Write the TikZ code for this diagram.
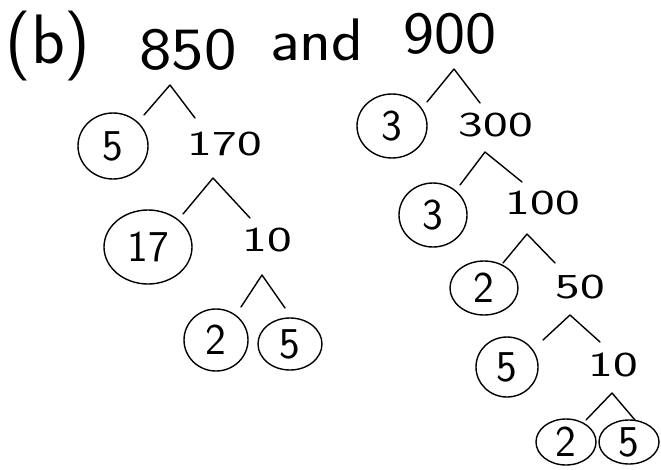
\documentclass[tikz,border=0pt]{standalone}
\usetikzlibrary{shapes.geometric}
\newcommand\widen[2][1.5]{\scalebox{#1}[1]{#2}}
\begin{document}
\begin{tikzpicture}[x=1pt,y=-1pt,
  ink/.style={line width=1.4pt,line cap=round,line join=round},
  big/.style={font=\sffamily\fontsize{60}{60}\selectfont,inner sep=0pt},
  num/.style={font=\sffamily\fontsize{35}{35}\selectfont,inner sep=0pt},
  ring/.style={ellipse,draw,line width=1.4pt,font=\sffamily\fontsize{44}{44}\selectfont,inner sep=0pt,minimum width=#1}]
\useasboundingbox (0,0) rectangle (661,469);
% title
\node[big,font=\sffamily\fontsize{70}{70}\selectfont] (b) at (48,46) {(b)};
\node[big] (n850) at (188,50) {\widen[1.15]{850}};
\node[big] (and) at (317,40) {\widen[1.1]{and}};
\node[big] (n900) at (450,34) {\widen[1.1]{900}};
% left tree
\coordinate (p1) at (170,85); \coordinate (l1) at (144,115); \coordinate (r1) at (195,118);
\node[ring=70pt,minimum height=66pt] (c5a) at (113,146) {5};
\node[num] (n170) at (225,144) {\widen{170}};
\coordinate (p2) at (213,178); \coordinate (l2) at (183,214); \coordinate (r2) at (250,218);
\node[ring=88pt,minimum height=74pt] (c17) at (148,247) {17};
\node[num] (n10a) at (267,240) {\widen{10}};
\coordinate (p3) at (262,275); \coordinate (l3) at (241,307); \coordinate (r3) at (285,308);
\node[ring=64pt,minimum height=62pt] (c2a) at (216,340) {2};
\node[ring=64pt,minimum height=52pt] (c5b) at (290,344) {5};
% right tree
\coordinate (p4) at (454,69); \coordinate (l4) at (427,102); \coordinate (r4) at (480,103);
\node[ring=70pt,minimum height=64pt] (c3a) at (392,126) {3};
\node[num] (n300) at (496,125) {\widen{300}};
\coordinate (p5) at (485,152); \coordinate (l5) at (460,185); \coordinate (r5) at (522,182);
\node[ring=68pt,minimum height=64pt] (c3b) at (433,215) {3};
\node[num] (n100) at (543,203) {\widen{100}};
\coordinate (p6) at (527,234); \coordinate (l6) at (503,263); \coordinate (r6) at (555,263);
\node[ring=68pt,minimum height=54pt] (c2b) at (484,288) {2};
\node[num] (n50) at (580,287) {\widen{50}};
\coordinate (p7) at (570,315); \coordinate (l7) at (543,340); \coordinate (r7) at (600,342);
\node[ring=62pt,minimum height=60pt] (c5c) at (507,367) {5};
\node[num] (n10b) at (613,365) {\widen{10}};
\coordinate (p8) at (612,393); \coordinate (l8) at (586,420); \coordinate (r8) at (635,420);
\node[ring=60pt,minimum height=46pt] (c2c) at (566,442) {2};
\node[ring=60pt,minimum height=44pt] (c5d) at (629,442) {5};
% branches
\foreach \i in {1,...,8}{\draw[ink] (l\i) -- (p\i) -- (r\i);}
\end{tikzpicture}
\end{document}
